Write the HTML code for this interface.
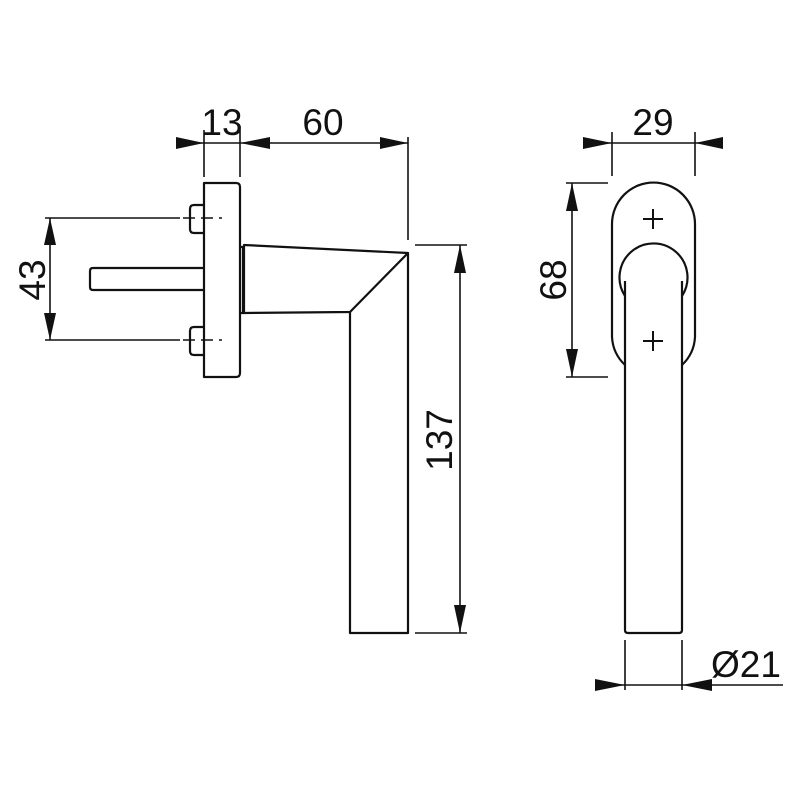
<!DOCTYPE html>
<html><head><style>body{margin:0;background:#fff}svg{display:block}</style></head><body>
<svg width="800" height="800" viewBox="0 0 800 800" xmlns="http://www.w3.org/2000/svg">
<g fill="none" stroke="#111" stroke-width="2.2" stroke-linejoin="round">
<path d="M204,183 H236 Q240,183 240,187 V373 Q240,377 236,377 H204 Z"/>
<path d="M204,205 H194 Q190,205 190,209 V229 Q190,233 194,233 H204"/>
<path d="M204,327 H194 Q190,327 190,331 V351 Q190,355 194,355 H204"/>
<path d="M204,268 H93 Q90,268 90,271 V287 Q90,290 93,290 H204"/>
<path d="M240,247 H244 M240,313 H244 M243,246 V314"/>
<path d="M244,245 L408,253 L350,312 L244,313 Z"/>
<path d="M350,312 V633 H408 V253"/>
<path d="M612,224 A41.5,41.5 0 0 1 695,224 V337 A41.5,41.5 0 0 1 682,365"/>
<path d="M612,224 V337 A41.5,41.5 0 0 0 625,365"/>
<path d="M625,296 A34,34 0 1 1 682,296"/>
<path d="M625,281 V630 Q625,633 628,633 H679 Q682,633 682,630 V281"/>
</g>
<g stroke="#111" stroke-width="2">
<line x1="643" y1="219" x2="663" y2="219"/><line x1="653" y1="209" x2="653" y2="229"/>
<line x1="643" y1="341" x2="663" y2="341"/><line x1="653" y1="331" x2="653" y2="351"/>
</g>
<g stroke="#111" stroke-width="1.6" fill="none">
<line x1="45" y1="218" x2="180" y2="218"/><line x1="183" y1="218" x2="222" y2="218" stroke-dasharray="12,6"/>
<line x1="45" y1="340" x2="180" y2="340"/><line x1="183" y1="340" x2="222" y2="340" stroke-dasharray="12,6"/>
<line x1="50" y1="218" x2="50" y2="340"/>
<line x1="176" y1="143" x2="408" y2="143"/>
<line x1="204" y1="130" x2="204" y2="177"/><line x1="240" y1="130" x2="240" y2="177"/>
<line x1="408" y1="137" x2="408" y2="240"/>
<line x1="415" y1="245" x2="467" y2="245"/><line x1="415" y1="633" x2="467" y2="633"/>
<line x1="460" y1="245" x2="460" y2="633"/>
<line x1="583" y1="143" x2="723" y2="143"/>
<line x1="612" y1="132" x2="612" y2="176"/><line x1="695" y1="132" x2="695" y2="176"/>
<line x1="566" y1="183" x2="608" y2="183"/><line x1="566" y1="377" x2="608" y2="377"/>
<line x1="572" y1="183" x2="572" y2="377"/>
<line x1="595" y1="685" x2="783" y2="685"/>
<line x1="625" y1="640" x2="625" y2="690"/><line x1="682" y1="640" x2="682" y2="690"/>
</g>
<g fill="#111">
<polygon points="176,137 204,143 176,149"/>
<polygon points="270,137 240,143 270,149"/>
<polygon points="380,137 408,143 380,149"/>
<polygon points="583,137 612,143 583,149"/>
<polygon points="723,137 695,143 723,149"/>
<polygon points="44,245 50,218 56,245"/>
<polygon points="44,313 50,340 56,313"/>
<polygon points="454,273 460,245 466,273"/>
<polygon points="454,605 460,633 466,605"/>
<polygon points="566,211 572,183 578,211"/>
<polygon points="566,349 572,377 578,349"/>
<polygon points="595,679 625,685 595,691"/>
<polygon points="712,679 682,685 712,691"/>
</g>
<g font-family="Liberation Sans, sans-serif" font-size="37" fill="#111" text-anchor="middle">
<text x="222" y="135">13</text>
<text x="323" y="135">60</text>
<text x="653" y="135">29</text>
<text x="746" y="677">Ø21</text>
<text transform="translate(45,280) rotate(-90)">43</text>
<text transform="translate(452,440) rotate(-90)">137</text>
<text transform="translate(566,280) rotate(-90)">68</text>
</g>
</svg>
</body></html>
